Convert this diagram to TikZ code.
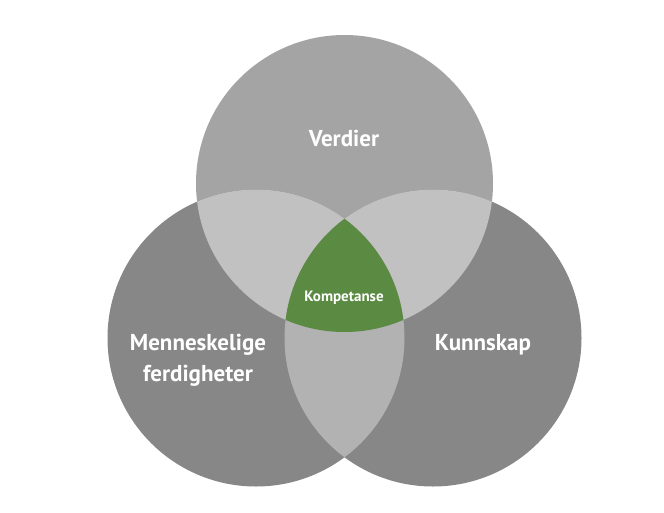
\documentclass[tikz,border=0pt]{standalone}
\usepackage{fontspec}
\setmainfont{PT Sans}
\usepackage{tikz}
\usetikzlibrary{positioning,backgrounds}
\definecolor{TopGrey}{HTML}{A4A4A4}
\definecolor{SideGrey}{HTML}{878787}
\definecolor{UpperLap}{HTML}{C1C1C1}
\definecolor{LowerLap}{HTML}{B2B2B2}
\definecolor{KompGreen}{HTML}{5B8A43}
\tikzstyle{bigtxt}=[text=white,font=\bfseries\fontsize{23}{31}\selectfont,align=center]
\tikzstyle{smalltxt}=[text=white,font=\bfseries\fontsize{15}{18}\selectfont]

\begin{document}
\begin{tikzpicture}[x=1pt,y=-1pt]
\fill[white] (0,0) rectangle (664,512);
\useasboundingbox (0,0) rectangle (664,512);
\coordinate (T) at (344.5,183.5);
\coordinate (L) at (256,338);
\coordinate (R) at (433,338);
\fill[TopGrey] (T) circle [radius=148.5pt];
\fill[SideGrey] (L) circle [radius=148.5pt];
\fill[SideGrey] (R) circle [radius=148.5pt];
\begin{scope}
\clip (T) circle [radius=148.5pt];
\fill[UpperLap] (L) circle [radius=148.5pt];
\fill[UpperLap] (R) circle [radius=148.5pt];
\end{scope}
\begin{scope}
\clip (L) circle [radius=148.5pt];
\fill[LowerLap] (R) circle [radius=148.5pt];
\end{scope}
\begin{scope}
\clip (T) circle [radius=148.5pt];
\clip (L) circle [radius=148.5pt];
\fill[KompGreen] (R) circle [radius=148.5pt];
\end{scope}
\node[bigtxt] (verdier) at (344,138) {Verdier};
\node[bigtxt] (menn) at (198,360) {Menneskelige\\ferdigheter};
\node[bigtxt] (kunn) at (483,345) {Kunnskap};
\node[smalltxt] (komp) at (344,298) {Kompetanse};
\end{tikzpicture}
\end{document}
